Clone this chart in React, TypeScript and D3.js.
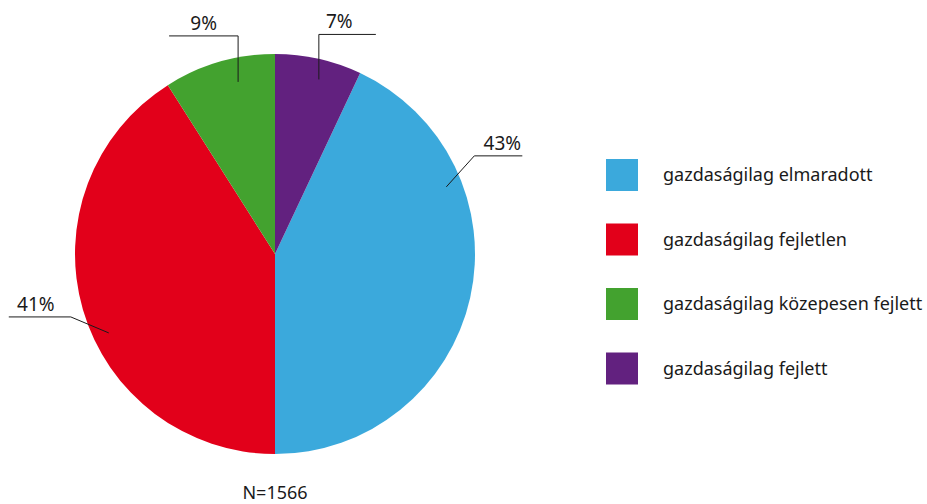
import React, { useRef, useEffect } from 'react';
import * as d3 from 'd3';

// legend / slice order
const categories = [
  'gazdaságilag elmaradott',
  'gazdaságilag fejletlen',
  'gazdaságilag közepesen fejlett',
  'gazdaságilag fejlett',
];
const shares = [43, 41, 9, 7];
const colors = ['#3BA9DC', '#E2001A', '#43A22F', '#62217F'];
const sampleLabel = 'N=1566';

// leader line layout per slice: anchor angle (deg), elbow offset, horizontal run, text shift
const leaders = [
  { angle: 68.6, r: 184, ex: 28, ey: -31, run: 48, tdx: 4 },
  { angle: 244.6, r: 184, ex: -38, ey: -16, run: -62, tdx: -4 },
  { angle: 347.9, r: 176, ex: 0, ey: -46, run: -69, tdx: 0 },
  { angle: 14.1, r: 180, ex: 0, ey: -45, run: 57, tdx: -8 },
];

const W = 927;
const H = 504;
const FONT = '"Noto Sans", sans-serif';

const App = () => {
  const svgRef = useRef<SVGSVGElement>(null);

  useEffect(() => {
    const svg = d3.select(svgRef.current);
    svg.selectAll('*').remove();

    const cx = 275;
    const cy = 254;
    const radius = 200;
    const offset = (2 * Math.PI * shares[3]) / 100;

    const pie = d3
      .pie<number>()
      .sort(null)
      .value((d) => d)
      .startAngle(offset)
      .endAngle(offset + 2 * Math.PI);
    const arc = d3.arc<d3.PieArcDatum<number>>().innerRadius(0).outerRadius(radius);

    const g = svg.append('g').attr('transform', `translate(${cx},${cy})`);

    g.selectAll('path')
      .data(pie(shares))
      .enter()
      .append('path')
      .attr('d', arc)
      .attr('fill', (_, i) => colors[i]);

    // leader lines and labels
    leaders.forEach((l, i) => {
      const [x0, y0] = d3.pointRadial((l.angle * Math.PI) / 180, l.r);
      const x1 = x0 + l.ex;
      const y1 = y0 + l.ey;
      const x2 = x1 + l.run;
      g.append('polyline')
        .attr('points', `${x0},${y0} ${x1},${y1} ${x2},${y1}`)
        .attr('fill', 'none')
        .attr('stroke', '#1a1a1a')
        .attr('stroke-width', 1);
      g.append('text')
        .attr('x', (x1 + x2) / 2 + l.tdx)
        .attr('y', y1 - 6)
        .attr('text-anchor', 'middle')
        .style('font-family', FONT)
        .style('font-size', '19px')
        .style('fill', '#1a1a1a')
        .text(`${shares[i]}%`);
    });

    // legend
    const legend = svg.append('g').attr('transform', 'translate(606,159)');
    const row = legend
      .selectAll('g')
      .data(categories)
      .enter()
      .append('g')
      .attr('transform', (_, i) => `translate(0,${i * 64.5})`);
    row.append('rect').attr('width', 32).attr('height', 32).attr('fill', (_, i) => colors[i]);
    row
      .append('text')
      .attr('x', 57)
      .attr('y', 16)
      .attr('dy', '0.35em')
      .style('font-family', FONT)
      .style('font-size', '18px')
      .style('fill', '#1a1a1a')
      .text((d) => d);

    svg
      .append('text')
      .attr('x', cx)
      .attr('y', 499)
      .attr('text-anchor', 'middle')
      .style('font-family', FONT)
      .style('font-size', '18px')
      .style('fill', '#1a1a1a')
      .text(sampleLabel);
  }, []);

  return (
    <svg
      ref={svgRef}
      width={W}
      height={H}
      style={{ position: 'absolute', left: 0, top: 0, display: 'block', background: '#fff' }}
    />
  );
};

export default App;
